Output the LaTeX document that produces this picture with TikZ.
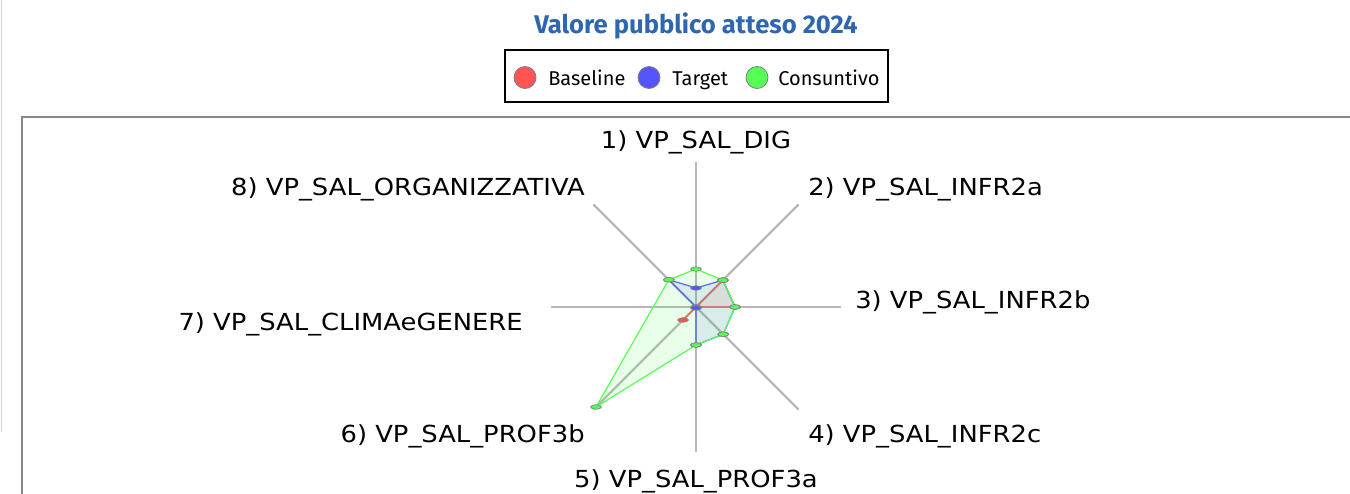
\documentclass[tikz,border=0pt]{standalone}
\usepackage{fontspec}
\setmainfont{Fira Sans}
\newfontfamily\labelfont[FakeStretch=1.1]{DejaVu Sans}
\usepackage{xcolor}
\usetikzlibrary{shapes.geometric, positioning, calc}

\definecolor{rosso}{RGB}{255,85,85}
\definecolor{blu}{RGB}{85,85,255}
\definecolor{verde}{RGB}{85,255,85}
\definecolor{titoloblu}{RGB}{46,102,176}
\definecolor{assegrigio}{RGB}{184,184,184}
\definecolor{cornicegrigio}{RGB}{136,136,136}

\tikzset{
	asse/.style={draw=assegrigio, line width=1.8pt},
	cornice/.style={draw=cornicegrigio, line width=1.5pt},
	etichetta/.style={font=\labelfont\fontsize{17.6}{20}\selectfont, inner sep=0pt},
	serie/.style={draw=#1, fill=#1, fill opacity=0.12, draw opacity=1, line width=0.9pt, line join=round},
	punto/.style={ellipse, draw=gray, line width=0.5pt, fill=#1, minimum width=8pt, minimum height=3.4pt, inner sep=0pt},
	voce/.style={circle, draw=gray, line width=0.6pt, fill=#1, minimum size=16.5pt, inner sep=0pt},
	testovoce/.style={font=\fontsize{15}{18}\selectfont, inner sep=0pt, anchor=base west}
}

\begin{document}
\begin{tikzpicture}[x=0.75pt, y=-0.75pt]
	\useasboundingbox (0,0) rectangle (1350,493);
	\clip (0,0) rectangle (1350,493);

	\draw[draw=gray!35, line width=0.75pt] (1,0) -- (1,432);
	\draw[cornice] (1355,117) -- (22,117) -- (22,500);

	\node[anchor=base, inner sep=0pt, text=titoloblu, font=\bfseries\fontsize{19.2}{22}\selectfont] (titolo) at (696,33) {Valore pubblico atteso 2024};

	\draw[line width=1.9pt] (505,50) rectangle (888,102);
	\node[voce=rosso] (vBaseline) at (525,77.5) {};
	\node[testovoce] (tBaseline) at (548,85) {Baseline};
	\node[voce=blu] (vTarget) at (649,77.5) {};
	\node[testovoce] (tTarget) at (672,85) {Target};
	\node[voce=verde] (vConsuntivo) at (757,77.5) {};
	\node[testovoce] (tConsuntivo) at (778,85) {Consuntivo};

	\begin{scope}[shift={(696,307)}, y=0.75pt]
		\coordinate (O) at (0,0);
		\foreach \a [count=\i] in {90,45,0,-45,-90,-135,180,135} {
			\coordinate (A\i) at (\a:145);
			\draw[asse] (O) -- (A\i);
		}

		% Baseline
		\coordinate (r2) at (45:38);
		\coordinate (r3) at (0:39);
		\coordinate (r6) at (-135:18.4);
		\draw[serie=rosso] (O) -- (r2) -- (r3) -- (O) -- (r6) -- cycle;

		% Target
		\coordinate (b1) at (90:19);
		\coordinate (b2) at (45:38);
		\coordinate (b3) at (0:39);
		\coordinate (b4) at (-45:38.5);
		\coordinate (b5) at (-90:38);
		\coordinate (b8) at (135:38.5);
		\draw[serie=blu] (b1) -- (b2) -- (b3) -- (b4) -- (b5) -- (O) -- (b8) -- cycle;

		% Consuntivo
		\coordinate (g1) at (90:38);
		\coordinate (g2) at (45:38);
		\coordinate (g3) at (0:39);
		\coordinate (g4) at (-45:38.5);
		\coordinate (g5) at (-90:38);
		\coordinate (g6) at (-135:141.4);
		\coordinate (g8) at (135:38.5);
		\draw[serie=verde] (g1) -- (g2) -- (g3) -- (g4) -- (g5) -- (g6) -- (g8) -- cycle;

		\node[punto=rosso] (pr0) at (O) {};
		\node[punto=rosso] (pr2) at (r2) {};
		\node[punto=rosso] (pr3) at (r3) {};
		\node[punto=rosso] (pr6) at (r6) {};
		\node[punto=blu] (pb1) at (b1) {};
		\node[punto=blu] (pb0) at (0,-1) {};
		\foreach \p in {2,3,4,5,8} \node[punto=blu] (pb\p) at (b\p) {};
		\foreach \p in {1,2,3,4,5,6,8} \node[punto=verde] (pg\p) at (g\p) {};
	\end{scope}

	\node[etichetta, anchor=base] (l1) at (696,148) {1) VP\_SAL\_DIG};
	\node[etichetta, anchor=base west] (l2) at (808,195) {2) VP\_SAL\_INFR2a};
	\node[etichetta, anchor=base west] (l3) at (855,308) {3) VP\_SAL\_INFR2b};
	\node[etichetta, anchor=base west] (l4) at (808,442) {4) VP\_SAL\_INFR2c};
	\node[etichetta, anchor=base] (l5) at (696,487) {5) VP\_SAL\_PROF3a};
	\node[etichetta, anchor=base east] (l6) at (585,442) {6) VP\_SAL\_PROF3b};
	\node[etichetta, anchor=base east] (l7) at (523,330) {7) VP\_SAL\_CLIMAeGENERE};
	\node[etichetta, anchor=base east] (l8) at (585,195) {8) VP\_SAL\_ORGANIZZATIVA};
\end{tikzpicture}
\end{document}
